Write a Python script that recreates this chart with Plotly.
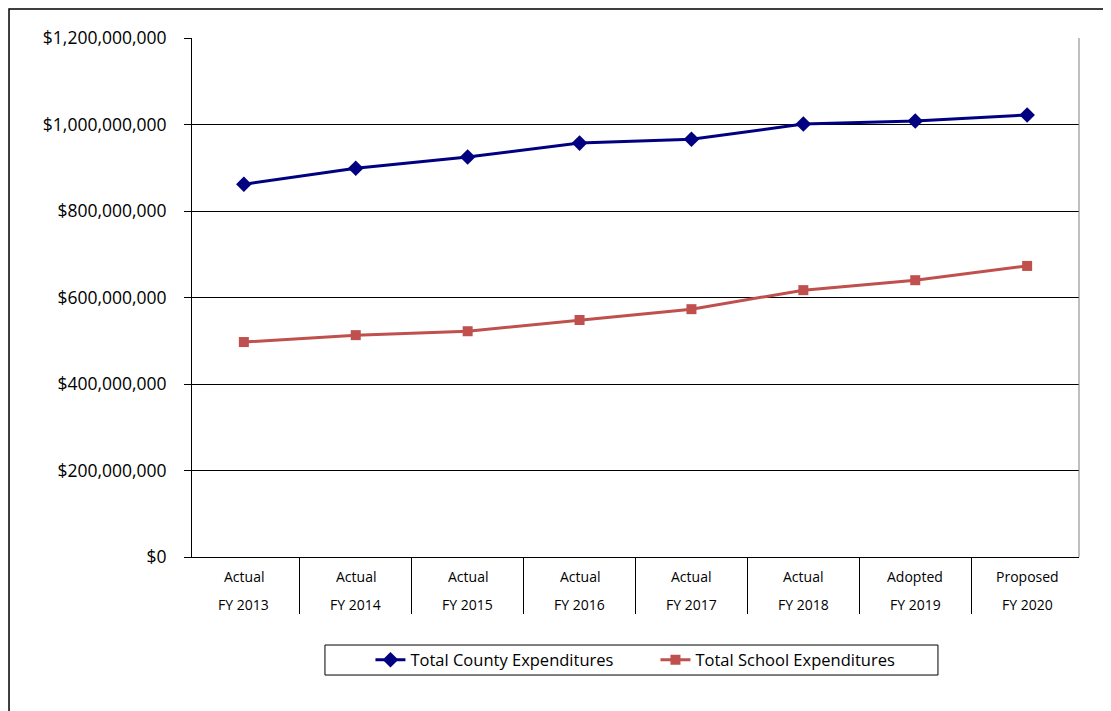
import plotly.graph_objects as go

statuses = ['Actual', 'Actual', 'Actual', 'Actual', 'Actual', 'Actual', 'Adopted', 'Proposed']
years = ['FY 2013', 'FY 2014', 'FY 2015', 'FY 2016', 'FY 2017', 'FY 2018', 'FY 2019', 'FY 2020']
county = [862e6, 899e6, 925e6, 957e6, 966e6, 1001e6, 1008e6, 1022e6]
school = [497e6, 513e6, 522e6, 548e6, 573e6, 617e6, 640e6, 673e6]
yticks = [0, 200e6, 400e6, 600e6, 800e6, 1000e6, 1200e6]

cats = [s + ' ' + y for s, y in zip(statuses, years)]
font = "Open Sans"

fig = go.Figure()
fig.add_trace(go.Scatter(
    x=cats, y=county, name='Total County Expenditures', mode='lines+markers',
    line=dict(color='#000080', width=3),
    marker=dict(symbol='diamond', size=12, color='#000080')))
fig.add_trace(go.Scatter(
    x=cats, y=school, name='Total School Expenditures', mode='lines+markers',
    line=dict(color='#C0504D', width=3),
    marker=dict(symbol='square', size=10, color='#C0504D')))

# two-line category labels under the axis
for c, s, y in zip(cats, statuses, years):
    fig.add_annotation(x=c, y=-0.0385, xref='x', yref='paper', text=s, showarrow=False,
                       yanchor='middle', font=dict(size=14, color='black', family=font))
    fig.add_annotation(x=c, y=-0.0906, xref='x', yref='paper', text=y, showarrow=False,
                       yanchor='middle', font=dict(size=14, color='black', family=font))

# outer chart frame, legend box and right plot edge
fig.add_shape(type='rect', xref='paper', yref='paper', x0=-0.2063, x1=1.06, y0=-0.35, y1=1.0559,
              line=dict(color='black', width=1.5), layer='below')
fig.add_shape(type='rect', xref='paper', yref='paper', x0=0.1499, x1=0.841, y0=-0.2274, y1=-0.1696,
              line=dict(color='black', width=1), layer='below')
fig.add_shape(type='line', xref='paper', yref='paper', x0=1, x1=1, y0=0, y1=1,
              line=dict(color='#808080', width=1))

fig.update_layout(
    width=1103, height=703,
    margin=dict(l=184, r=32, t=30, b=154),
    plot_bgcolor='white', paper_bgcolor='white',
    font=dict(family=font, color='black', size=16),
    showlegend=True,
    legend=dict(orientation='h', x=0.5225, xanchor='center', y=-0.1985, yanchor='middle',
                borderwidth=0, bgcolor='rgba(0,0,0,0)', font=dict(size=16.5, family=font),
                entrywidth=240, itemwidth=30),
    xaxis=dict(type='category', showticklabels=False, ticks='outside', tickson='boundaries',
               ticklen=56, tickcolor='black', tickwidth=1, showgrid=False,
               showline=True, linecolor='black', linewidth=1),
    yaxis=dict(range=[0, 1200e6], tickvals=yticks,
               ticktext=['$' + format(int(v), ',') for v in yticks],
               ticks='outside', ticklen=7, tickcolor='black', ticklabelstandoff=14,
               showgrid=True, gridcolor='black', gridwidth=1,
               showline=True, linecolor='black', linewidth=1, zeroline=False,
               tickfont=dict(size=17.5, family=font)),
)

fig.write_html("out.html")
